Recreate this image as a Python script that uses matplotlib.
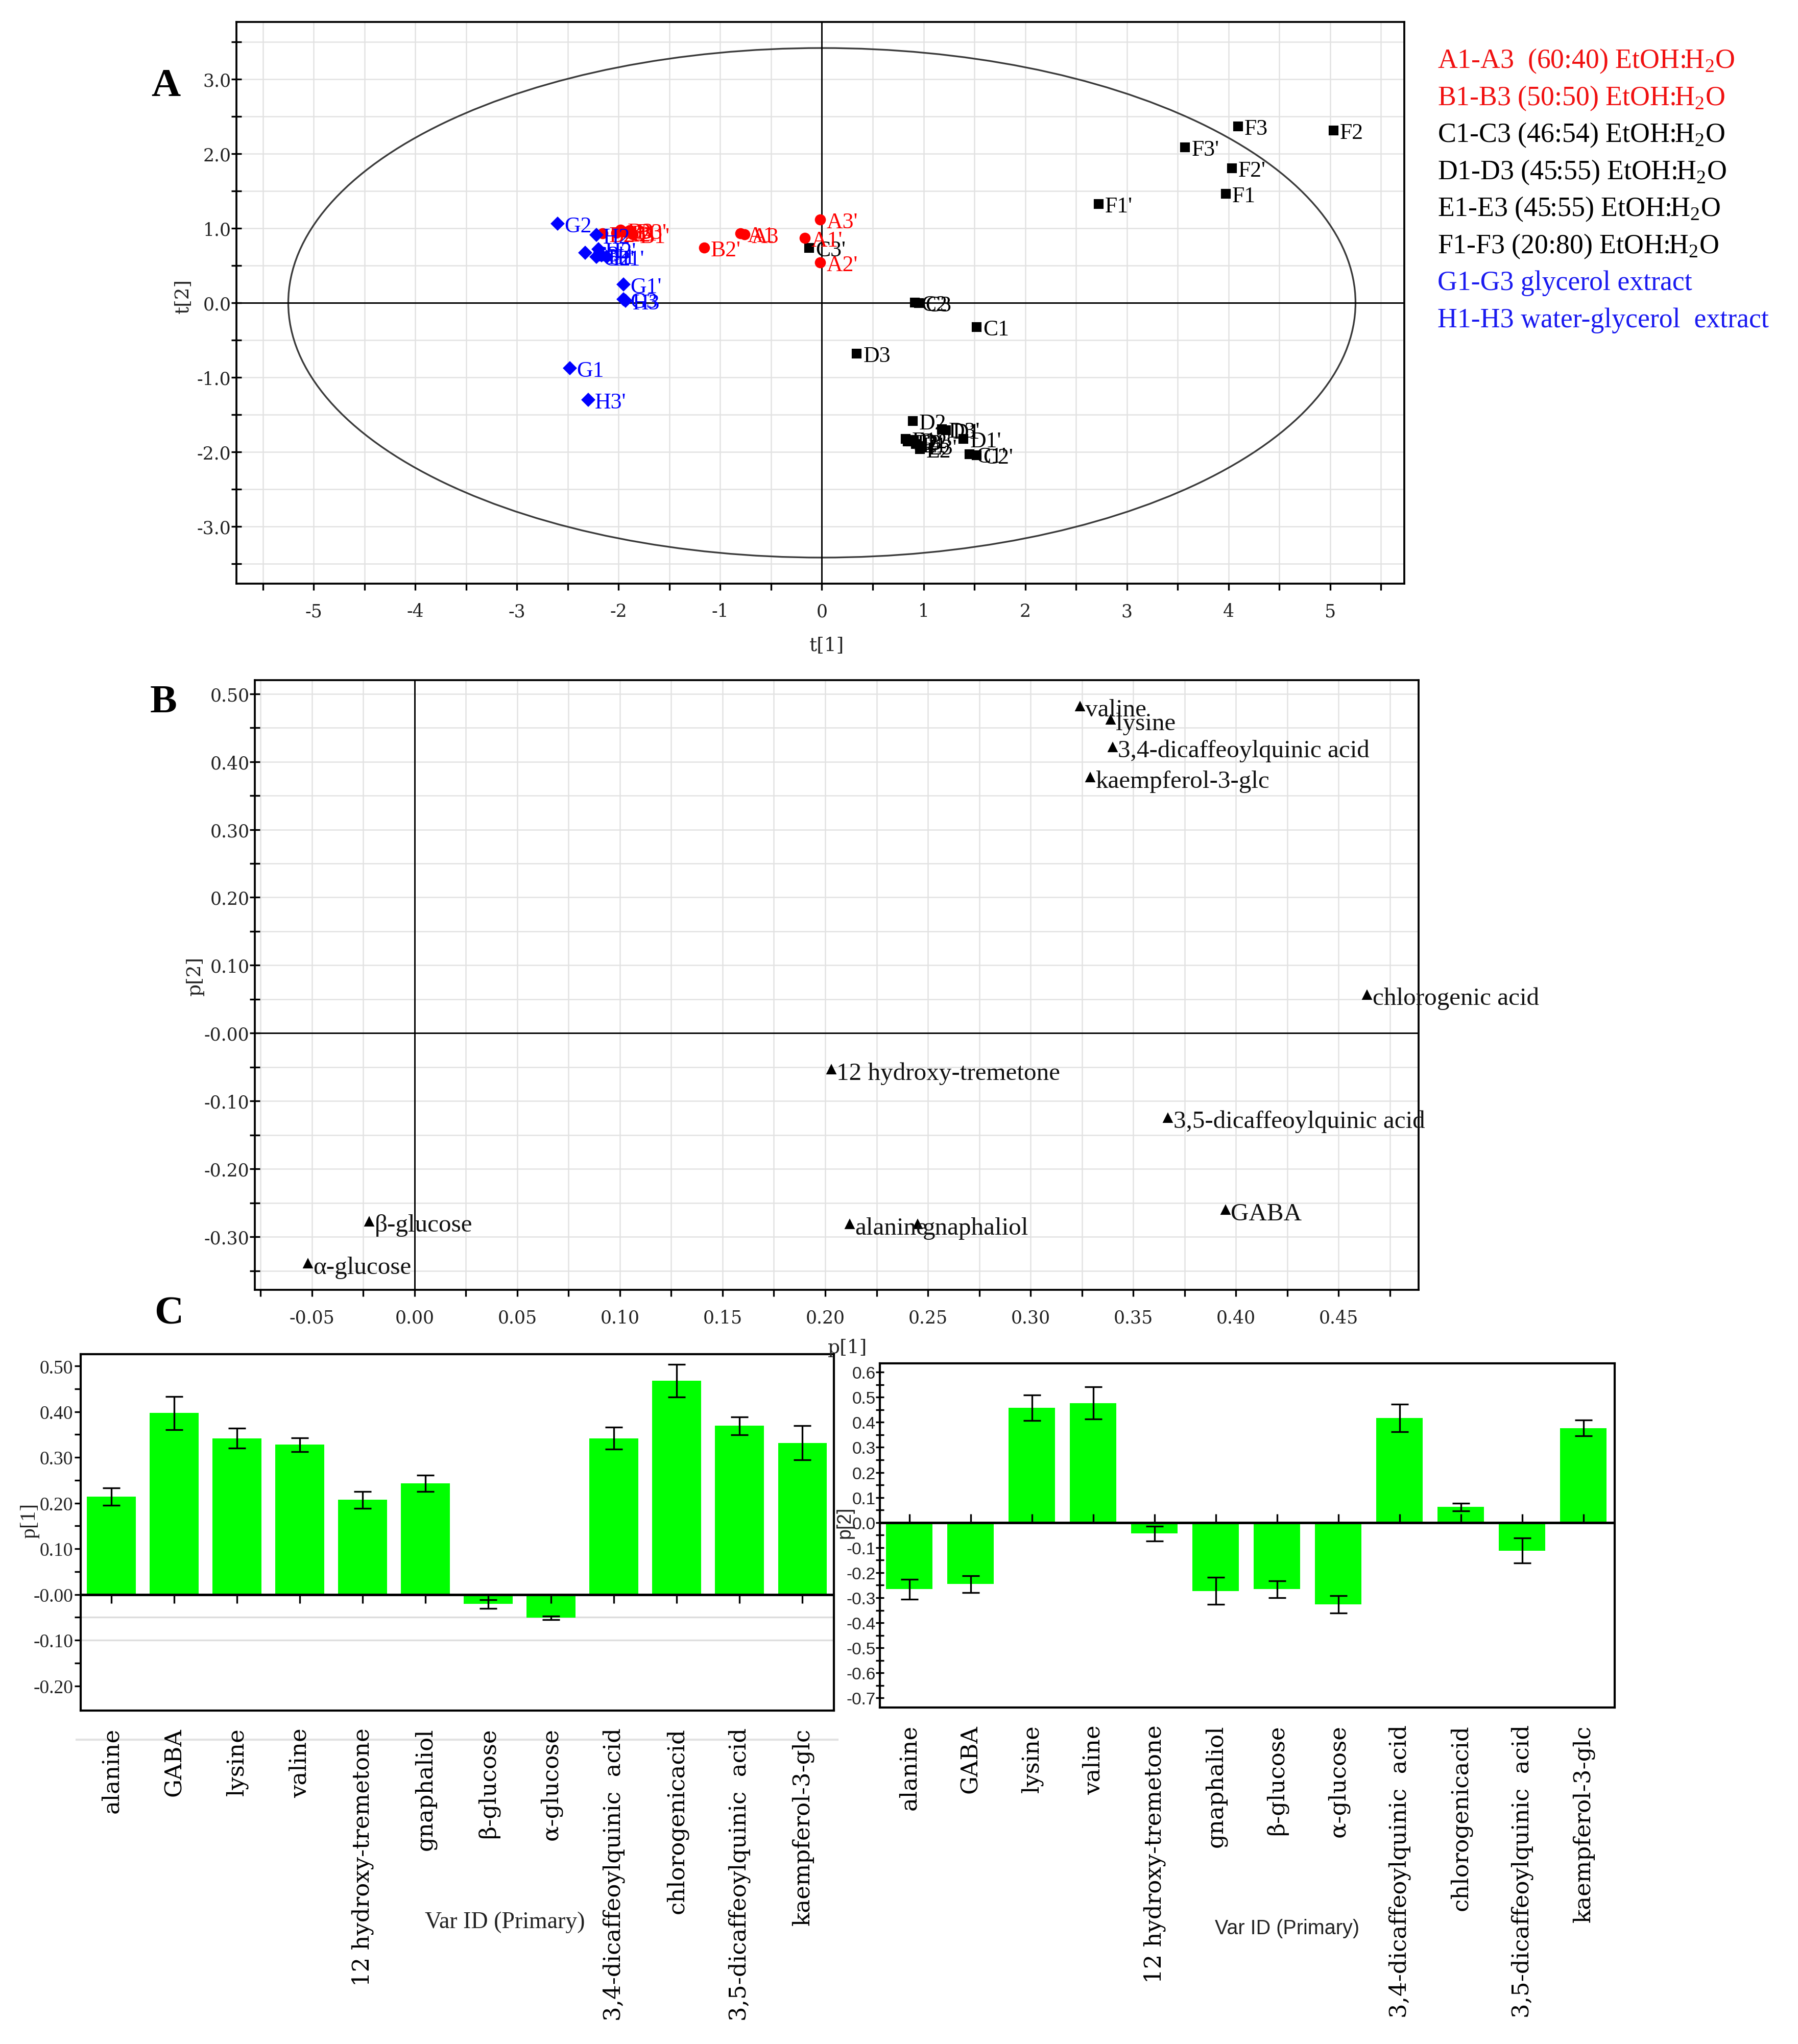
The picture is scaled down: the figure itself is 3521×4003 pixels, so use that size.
"""Recreate the PCA score / loading figure (panels A, B, C) as out.png."""
import matplotlib
matplotlib.use("Agg")
import matplotlib.pyplot as plt
from matplotlib.patches import Ellipse
from matplotlib.lines import Line2D
import numpy as np

W, H = 3521, 4004
plt.rcParams['font.family'] = ['Liberation Serif', 'DejaVu Serif']
plt.rcParams['mathtext.fontset'] = 'custom'
plt.rcParams['mathtext.rm'] = 'Liberation Serif'

# ---- Panel A: scores t[1] / t[2] ----
black_names = ["F3", "F2", "F3'", "F2'", "F1", "F1'", "C1", "C2", "C3", "C3'",
               "C1'", "C2'", "D3", "D2", "D3'", "D1", "D1'", "D2'",
               "E1", "E3", "E1'", "E3'", "E2'", "E2"]
black_t1 = [4.09, 5.03, 3.57, 4.03, 3.97, 2.72, 1.52, 0.91, 0.95, -0.13,
            1.45, 1.52, 0.34, 0.89, 1.18, 1.22, 1.39, 0.90,
            0.82, 0.87, 0.92, 0.98, 0.84, 0.96]
black_t2 = [2.37, 2.32, 2.09, 1.81, 1.47, 1.33, -0.32, 0.01, 0.00, 0.74,
            -2.03, -2.04, -0.68, -1.58, -1.69, -1.71, -1.82, -1.84,
            -1.82, -1.86, -1.89, -1.92, -1.86, -1.96]

red_names = ["A3'", "A1'", "A2'", "A1", "A3", "B2'", "B2", "A2", "B3", "B1", "B3'", "B1'"]
red_t1 = [-0.02, -0.17, -0.02, -0.80, -0.76, -1.16, -2.16, -2.02, -1.98, -1.94, -1.89, -1.86]
red_t2 = [1.12, 0.87, 0.54, 0.93, 0.92, 0.74, 0.93, 0.94, 0.98, 0.95, 0.97, 0.92]

blue_names = ["G2", "H2", "G3'", "H2'", "H1", "H1'", "G2'", "G1'", "G3", "H3", "G1", "H3'"]
blue_t1 = [-2.60, -2.22, -2.33, -2.20, -2.17, -2.12, -2.22, -1.95, -1.95, -1.93, -2.48, -2.30]
blue_t2 = [1.06, 0.91, 0.67, 0.72, 0.64, 0.62, 0.62, 0.25, 0.05, 0.03, -0.88, -1.30]

legend_lines = ["A1-A3  (60:40) EtOH:H$_\\mathregular{2}$O",
                "B1-B3 (50:50) EtOH:H$_\\mathregular{2}$O",
                "C1-C3 (46:54) EtOH:H$_\\mathregular{2}$O",
                "D1-D3 (45:55) EtOH:H$_\\mathregular{2}$O",
                "E1-E3 (45:55) EtOH:H$_\\mathregular{2}$O",
                "F1-F3 (20:80) EtOH:H$_\\mathregular{2}$O",
                "G1-G3 glycerol extract",
                "H1-H3 water-glycerol  extract"]
legend_colors = ["#f01010", "#f01010", "black", "black", "black", "black", "#1a1af0", "#1a1af0"]

# ---- Panel B: loadings p[1] / p[2] ----
load_names = ["valine", "lysine", "3,4-dicaffeoylquinic acid", "kaempferol-3-glc",
              "chlorogenic acid", "12 hydroxy-tremetone", "3,5-dicaffeoylquinic acid",
              "GABA", "alanine", "gnaphaliol", "β-glucose", "α-glucose"]
load_p1 = [0.324, 0.339, 0.340, 0.329, 0.464, 0.203, 0.367, 0.395, 0.212, 0.245, -0.022, -0.052]
load_p2 = [0.481, 0.461, 0.421, 0.376, 0.056, -0.054, -0.125, -0.261, -0.282, -0.282, -0.278, -0.340]

# ---- Panel C: loading bar charts with error bars ----
categories = ["alanine", "GABA", "lysine", "valine", "12 hydroxy-tremetone", "gnaphaliol",
              "β-glucose", "α-glucose", "3,4-dicaffeoylquinic  acid", "chlorogenicacid",
              "3,5-dicaffeoylquinic  acid", "kaempferol-3-glc"]
p1_vals = [0.214, 0.397, 0.342, 0.328, 0.207, 0.243, -0.021, -0.051, 0.342, 0.468, 0.369, 0.332]
p1_err = [0.019, 0.036, 0.022, 0.015, 0.018, 0.018, 0.009, 0.004, 0.024, 0.036, 0.020, 0.037]
p2_vals = [-0.266, -0.246, 0.457, 0.477, -0.044, -0.273, -0.266, -0.326, 0.418, 0.062, -0.112, 0.377]
p2_err = [0.040, 0.034, 0.051, 0.064, 0.030, 0.054, 0.034, 0.035, 0.055, 0.015, 0.050, 0.032]

A_xticks = np.arange(-5.5, 5.51, 0.5)
A_yticks = np.arange(-3.5, 3.51, 0.5)
B_xticks = np.arange(-0.075, 0.4751, 0.025)
B_yticks = np.arange(-0.35, 0.501, 0.05)
B_xlabels = ["-0.05", "0.00", "0.05", "0.10", "0.15", "0.20", "0.25", "0.30", "0.35", "0.40", "0.45"]
B_ylabels = ["0.50", "0.40", "0.30", "0.20", "0.10", "-0.00", "-0.10", "-0.20", "-0.30"]
C1_ylabels = ["0.50", "0.40", "0.30", "0.20", "0.10", "-0.00", "-0.10", "-0.20"]
C2_ylabels = ["0.6", "0.5", "0.4", "0.3", "0.2", "0.1", "0.0", "-0.1", "-0.2", "-0.3",
              "-0.4", "-0.5", "-0.6", "-0.7"]

GRID = "#e2e2e2"
TICK_FONT = "DejaVu Serif"


def box(x0, y0, x1, y1):
    return [x0 / W, 1 - y1 / H, (x1 - x0) / W, (y1 - y0) / H]


def ftext(x, y, s, **kw):
    fig.text(x / W, 1 - y / H, s, **kw)


fig = plt.figure(figsize=(W / 300, H / 300), dpi=300)

# ================= A =================
ax = fig.add_axes(box(463, 44, 2750, 1144))
ax.set_xlim(-5.76, 5.73)
ax.set_ylim(-3.77, 3.77)
ax.set_axisbelow(True)
ax.set_xticks(A_xticks, [("%d" % t if abs(t - round(t)) < 1e-6 else "") for t in A_xticks],
              fontfamily=TICK_FONT, fontsize=8.3, color="#222222")
ax.set_yticks(A_yticks, [("%.1f" % t if abs(t - round(t)) < 1e-6 else "") for t in A_yticks],
              fontfamily=TICK_FONT, fontsize=8.3, color="#222222")
ax.tick_params(axis="x", direction="out", length=3, width=0.8, pad=6)
ax.tick_params(axis="y", direction="inout", length=5, width=0.8, pad=0)
ax.grid(True, color=GRID, lw=0.6)
for sp in ax.spines.values():
    sp.set_linewidth(0.9)
ax.axhline(0, color="black", lw=0.7)
ax.axvline(0, color="black", lw=0.7)
ax.add_patch(Ellipse((0, 0), 2 * 5.25, 2 * 3.42, fill=False, ec="#3a3a3a", lw=0.8))

groups = [(black_names, black_t1, black_t2, "black", "s", 3.6),
          (red_names, red_t1, red_t2, "#ff0000", "o", 4.2),
          (blue_names, blue_t1, blue_t2, "#0000ff", "D", 3.6)]
for names, xs, ys, col, mk, ms in groups:
    ax.plot(xs, ys, ls="none", marker=mk, ms=ms, color=col, zorder=4)
    for n, x, y in zip(names, xs, ys):
        ax.annotate(n, (x, y), xytext=(3.2, -1.2), textcoords="offset points",
                    va="center", ha="left", fontsize=10.5, color=col, zorder=5)

ftext(325, 170, "A", fontsize=19, fontweight="bold", ha="center", va="center")
ftext(359, 580, "t[2]", fontsize=9, fontfamily=TICK_FONT, rotation=90, ha="center", va="center",
      color="#222222")
ftext(1619, 1265, "t[1]", fontsize=9, fontfamily=TICK_FONT, ha="center", va="center",
      color="#222222")

for i, (s, c) in enumerate(zip(legend_lines, legend_colors)):
    ftext(2815, 120 + i * 72.5, s, color=c, fontsize=12.9, ha="left", va="center")

# ================= B =================
bx = fig.add_axes(box(499, 1333, 2778, 2527))
bx.set_xlim(-0.0778, 0.489)
bx.set_ylim(-0.378, 0.52)
bx.set_axisbelow(True)
bx.set_xticks(B_xticks, [""] + B_xlabels[:1] + sum([[""] + [l] for l in B_xlabels[1:]], []) + [""],
              fontfamily=TICK_FONT, fontsize=8.3, color="#222222")
ylabs = []
for t in B_yticks:
    k = int(round(t * 100))
    ylabs.append(B_ylabels[(50 - k) // 10] if k % 10 == 0 else "")
bx.set_yticks(B_yticks, ylabs, fontfamily=TICK_FONT, fontsize=8.3, color="#222222")
bx.tick_params(axis="x", direction="out", length=3, width=0.8, pad=6)
bx.tick_params(axis="y", direction="inout", length=5, width=0.8, pad=0)
bx.grid(True, color=GRID, lw=0.6)
for sp in bx.spines.values():
    sp.set_linewidth(0.9)
bx.axhline(0, color="black", lw=0.7)
bx.axvline(0, color="black", lw=0.7)
bx.plot(load_p1, load_p2, ls="none", marker="^", ms=3.4, color="black", zorder=4)
for n, x, y in zip(load_names, load_p1, load_p2):
    bx.annotate(n, (x, y), xytext=(2.5, -1.5), textcoords="offset points",
                va="center", ha="left", fontsize=11.8, color="#111111", zorder=5)

ftext(320, 1377, "B", fontsize=19, fontweight="bold", ha="center", va="center")
ftext(382, 1911, "p[2]", fontsize=9, fontfamily=TICK_FONT, rotation=90, ha="center", va="center",
      color="#222222")
ftext(1660, 2640, "p[1]", fontsize=9, fontfamily=TICK_FONT, ha="center", va="center",
      color="#222222")
ftext(331, 2574, "C", fontsize=19, fontweight="bold", ha="center", va="center")

# ================= C (left: p[1]) =================
xpos = np.arange(len(categories))
c1 = fig.add_axes(box(158, 2653, 1633, 3351))
c1.set_xlim(-0.49, 11.5)
c1.set_ylim(-0.254, 0.526)
c1.axhline(-0.05, color="#dddddd", lw=0.8, zorder=0)
c1.axhline(-0.10, color="#dddddd", lw=0.8, zorder=0)
c1.bar(xpos, p1_vals, width=0.78, color="#00ff00", zorder=2)
c1.errorbar(xpos, p1_vals, yerr=p1_err, fmt="none", ecolor="black", elinewidth=0.8,
            capsize=4, capthick=0.8, zorder=3)
c1.axhline(0, color="black", lw=1.2, zorder=3)
c1.plot(xpos, np.zeros(len(xpos)), ls="none", marker=3, ms=4, mew=0.8, color="black", zorder=3)
c1.set_yticks(np.arange(0.5, -0.21, -0.1), C1_ylabels, fontsize=9, color="#222222")
c1.set_yticks(np.arange(0.45, -0.25, -0.1), minor=True)
c1.tick_params(axis="y", which="both", direction="out", length=3, width=0.8, pad=0.5)
c1.set_xticks(xpos, categories, rotation=90, va="top", ha="center", fontsize=10.8,
              fontfamily=TICK_FONT)
c1.tick_params(axis="x", length=0, pad=8)
for sp in c1.spines.values():
    sp.set_linewidth(1.0)
ftext(58, 2978, "p[1]", fontsize=10, rotation=90, ha="center", va="center", color="#222222")
ftext(989, 3765, "Var ID (Primary)", fontsize=11, ha="center", va="center", color="#222222")
fig.add_artist(Line2D([150 / W, 1640 / W], [1 - 3408 / H, 1 - 3408 / H], color="#e2e2e2",
                      lw=1.0, zorder=-1))

# ================= C (right: p[2]) =================
c2 = fig.add_axes(box(1723, 2671, 3162, 3345))
c2.set_xlim(-0.48, 11.51)
c2.set_ylim(-0.738, 0.635)
c2.bar(xpos, p2_vals, width=0.76, color="#00ff00", zorder=2)
c2.errorbar(xpos, p2_vals, yerr=p2_err, fmt="none", ecolor="black", elinewidth=0.8,
            capsize=4, capthick=0.8, zorder=3)
c2.axhline(0, color="black", lw=1.2, zorder=3)
c2.plot(xpos, np.zeros(len(xpos)), ls="none", marker=2, ms=4, mew=0.8, color="black", zorder=3)
c2.set_yticks(np.round(np.arange(0.6, -0.71, -0.1), 2), C2_ylabels,
              fontfamily=["Liberation Sans", "DejaVu Sans"], fontsize=8, color="#222222")
c2.set_yticks(np.arange(0.55, -0.75, -0.1), minor=True)
c2.tick_params(axis="y", which="both", direction="inout", length=4, width=0.8, pad=0)
c2.set_xticks(xpos, categories, rotation=90, va="top", ha="center", fontsize=10.8,
              fontfamily=TICK_FONT)
c2.tick_params(axis="x", length=0, pad=8)
for sp in c2.spines.values():
    sp.set_linewidth(1.0)
ftext(1655, 2982, "p[2]", fontsize=9, fontfamily=["Liberation Sans", "DejaVu Sans"],
      rotation=90, ha="center", va="center", color="#222222")
ftext(2521, 3777, "Var ID (Primary)", fontsize=9.5, fontfamily=["Liberation Sans", "DejaVu Sans"],
      ha="center", va="center", color="#222222")

fig.savefig("out.png", dpi=300)
